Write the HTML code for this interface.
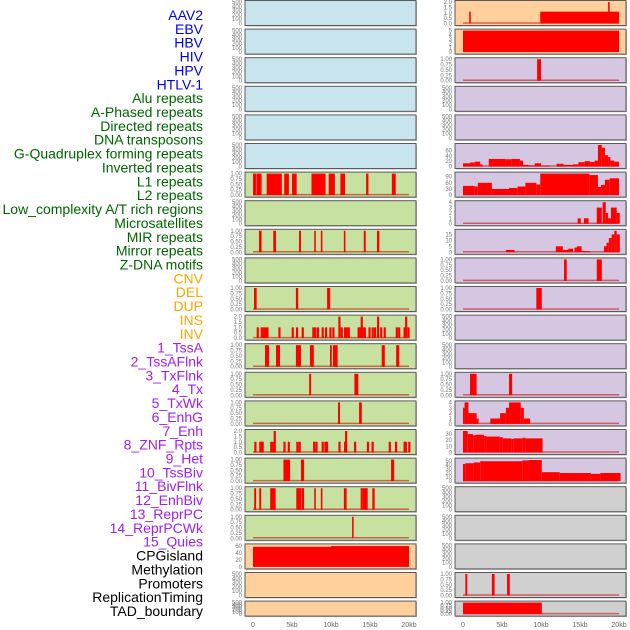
<!DOCTYPE html>
<html><head><meta charset="utf-8"><style>
html,body{margin:0;padding:0;background:#fff;width:630px;height:630px;overflow:hidden}
svg{display:block;font-family:"Liberation Sans",sans-serif}
</style></head><body>
<svg id="chart" width="630" height="630" viewBox="0 0 630 630"></svg>
<script>
// ---- data ----
const categories = ["AAV2","EBV","HBV","HIV","HPV","HTLV-1","Alu repeats","A-Phased repeats","Directed repeats","DNA transposons","G-Quadruplex forming repeats","Inverted repeats","L1 repeats","L2 repeats","Low_complexity A/T rich regions","Microsatellites","MIR repeats","Mirror repeats","Z-DNA motifs","CNV","DEL","DUP","INS","INV","1_TssA","2_TssAFlnk","3_TxFlnk","4_Tx","5_TxWk","6_EnhG","7_Enh","8_ZNF_Rpts","9_Het","10_TssBiv","11_BivFlnk","12_EnhBiv","13_ReprPC","14_ReprPCWk","15_Quies","CPGisland","Methylation","Promoters","ReplicationTiming","TAD_boundary"];
const categoryGroups = [0,0,0,0,0,0,1,1,1,1,1,1,1,1,1,1,1,1,1,2,2,2,2,2,3,3,3,3,3,3,3,3,3,3,3,3,3,3,3,4,4,4,4,4];
const groupColors = ["#0000ee","#006400","#ffa500","#a020f0","#000000"];
const xTickValues = [0,5,10,15,20];
const xTickLabels = ["0","5kb","10kb","15kb","20kb"];
const emptyTicks = [0,100,200,300,400,500];
const binaryTicks = [0,0.25,0.5,0.75,1];

// left column segments [startKb, endKb, value]
const leftRow6 = [[0,0.45,1],[0.5,1.1,1],[1.75,3.7,1],[4.0,4.6,1],[5.0,5.6,1],[7.5,9.3,1],[9.7,10.5,1],[11.2,11.8,1],[14.5,14.8,1],[17.8,18.3,1]];
const leftRow8 = [[0.77,1.1,1],[2.6,2.95,1],[5.9,6.15,1],[7.85,8.05,1],[8.7,8.9,1],[11.65,11.85,1],[14.2,14.45,1],[15.9,16.2,1]];
const leftRow10 = [[0.13,0.47,1],[5.5,5.8,1],[9.5,9.9,1]];
const leftRow11Pos = [0.47,0.98,1.24,1.45,1.71,3.25,4.96,5.51,6.24,7.6,7.86,8.2,8.8,9.23,9.79,10.17,10.94,11.24,11.67,11.88,12.14,13.4,13.6,13.8,14.0,14.2,14.8,15.2,15.5,15.9,16.3,16.75,18.3,18.6,19.3,19.5,19.8];
const leftRow11Val = [1,1,1,1,1,1,1,1,1,1,1,1,1,1,1,1,2,1,1,1,1,1,1,2,1,1,1,1,1,2,1,1,1,1,1,2,1];
const leftRow12 = [[1.54,2.05,1],[2.95,3.46,1],[5.5,6.15,1],[7.3,7.8,1],[9.87,10.1,1],[10.25,10.85,1],[16.5,16.9,1],[18.35,18.75,1]];
const leftRow13 = [[7.2,7.45,1],[13.0,13.5,1]];
const leftRow14 = [[10.9,11.15,1],[13.6,13.95,1]];
const leftRow15Pos = [0.17,0.8,1.0,1.1,2.2,2.45,2.65,3.9,4.45,5.55,5.85,7.7,8.0,8.8,9.15,9.35,10.95,11.67,11.8,12.95,14.6,15.2,17.4,18.2,19.3,19.45,19.9];
const leftRow15Val = [1,1,1,1,1,1,2,1,1,1,1,1,1,1,1,1,1,1,2,1,1,1,1,1,1,1,1];
const leftRow16 = [[3.9,4.75,1],[6.15,6.55,1],[17.7,18.1,1]];
const leftRow17 = [[0.15,0.4,1],[0.8,1.05,1],[2.2,2.9,1],[5.55,6.15,1],[6.2,6.55,1],[7.85,8.05,1],[8.7,8.9,1],[11.65,12.0,1],[13.8,14.0,1],[14.0,14.7,1],[15.3,15.6,1]];
const leftRow18 = [[12.7,12.9,1]];
const leftRow19 = [[0,10,58],[10,20,60]];

// right column segments
const rightRow0 = [[0.8,1.0,1.1],[9.9,20,1.1],[18.6,18.8,2]];
const rightRow1 = [[0,20,5]];
const rightRow2 = [[9.5,10.0,1]];
const rightRow5 = [[0,0.9,12],[0.9,1.5,15],[1.5,2.2,18],[2.2,2.5,8],[3.3,5.4,28],[5.4,6.2,27],[6.2,7.3,28],[7.3,7.7,22],[7.7,8.4,6],[8.4,9.2,4],[9.2,10,12],[10,11.1,3],[12,12.9,10],[12.9,14.1,6],[14.1,14.8,8],[14.8,15.6,16],[15.6,16.3,20],[16.3,16.9,17],[16.9,17.3,22],[17.3,17.8,80],[17.8,18.2,70],[18.2,18.6,42],[18.6,18.9,35],[18.9,19.4,22],[19.4,20,18]];
const rightRow6 = [[0,1.5,45],[1.5,1.9,42],[1.9,3.7,60],[3.7,5.9,30],[5.9,7.0,35],[7.0,8.0,42],[8.0,9.4,60],[9.4,9.9,52],[9.9,16.2,105],[16.2,17.3,98],[17.3,17.7,40],[17.7,18.2,50],[18.2,18.8,75],[18.8,20,82]];
const rightRow7 = [[14.7,15.1,1],[15.5,16.1,1],[17.15,17.8,3],[17.9,18.3,4],[18.3,18.6,2],[18.6,18.97,1],[18.97,19.7,3],[19.7,20.1,2]];
const rightRow8 = [[5.5,6.6,2],[11.9,12.8,5],[12.8,13.5,2],[13.5,14.1,3],[14.3,14.6,4],[14.6,15.2,5],[15.2,16.3,1],[18.07,18.4,5],[18.4,18.7,8],[18.7,19.06,12],[19.06,19.4,15],[19.4,19.7,18],[19.7,20.1,15]];
const rightRow9 = [[12.95,13.3,1],[17.15,17.8,1]];
const rightRow10 = [[9.4,10.1,1]];
const rightRow13 = [[0.9,1.75,1],[5.9,6.3,1]];
const rightRow14 = [[0,0.2,3],[0.2,0.7,4],[0.7,1.75,2],[1.75,2,1],[3.5,4.75,1],[4.75,5.5,2],[5.5,5.9,3],[5.9,7.4,4],[7.4,7.8,3],[7.8,8.6,1]];
const rightRow15 = [[0,0.6,35],[0.6,1.3,30],[1.3,1.6,28],[1.6,2.7,29],[2.7,3.0,27],[3.0,4.7,26],[4.7,5.1,25],[5.1,6.2,23],[6.2,6.5,22],[6.5,7.6,23],[7.6,8.0,24],[8.0,10.2,23]];
const rightRow16 = [[0,0.3,42],[0.3,1.4,44],[1.4,2.2,46],[2.2,7.6,49],[7.6,8.4,51],[8.4,10.1,52],[10.1,12.4,22],[12.4,16.4,20],[16.4,17.6,18],[17.6,20.2,20]];
const rightRow20 = [[0.3,0.55,1],[3.7,4.05,1],[5.65,6.0,1]];
const rightRow21 = [[0,10.1,1]];

// ---- drawing ----
const NS = "http://www.w3.org/2000/svg";
const svg = document.getElementById("chart");
function mk(tag, attrs, parent){ const e=document.createElementNS(NS,tag); for(const k in attrs) e.setAttribute(k,attrs[k]); (parent||svg).appendChild(e); return e; }
const COLORS = {blue:"#c8e4ec",green:"#c7e1a1",peach:"#ffcf9c",purple:"#d5c7e2",gray:"#d0d0d0"};
const COLS = [{x0:245,x1:416,z:253},{x0:455,x1:626,z:463}];
const kbPx = 7.8;
function xScale(col,kb){ return COLS[col].z + kb*kbPx; }
function rowTop(i){ return 0.5 + i*28.6; }
function rowH(i){ return i===21 ? 15 : 25; }
function fmt(v,ticks){ if(ticks===binaryTicks) return v.toFixed(2); if(ticks.some(t=>t%1!==0)) return v.toFixed(1); return String(v); }

function pointsToSegs(pos,val){ return pos.map((p,i)=>[p,p+0.28,val[i]]); }

const leftSpecs = [];
for(let i=0;i<6;i++) leftSpecs.push({bg:"blue"});
leftSpecs.push({bg:"green",data:leftRow6,ticks:binaryTicks,ymax:1});
leftSpecs.push({bg:"green"});
leftSpecs.push({bg:"green",data:leftRow8,ticks:binaryTicks,ymax:1});
leftSpecs.push({bg:"green"});
leftSpecs.push({bg:"green",data:leftRow10,ticks:binaryTicks,ymax:1});
leftSpecs.push({bg:"green",data:pointsToSegs(leftRow11Pos,leftRow11Val),ticks:[0,0.5,1,1.5,2],ymax:2});
leftSpecs.push({bg:"green",data:leftRow12,ticks:binaryTicks,ymax:1});
leftSpecs.push({bg:"green",data:leftRow13,ticks:binaryTicks,ymax:1});
leftSpecs.push({bg:"green",data:leftRow14,ticks:binaryTicks,ymax:1});
leftSpecs.push({bg:"green",data:pointsToSegs(leftRow15Pos,leftRow15Val),ticks:[0,0.5,1,1.5,2],ymax:2});
leftSpecs.push({bg:"green",data:leftRow16,ticks:binaryTicks,ymax:1});
leftSpecs.push({bg:"green",data:leftRow17,ticks:binaryTicks,ymax:1});
leftSpecs.push({bg:"green",data:leftRow18,ticks:binaryTicks,ymax:1});
leftSpecs.push({bg:"peach",data:leftRow19,ticks:[0,20,40,60],ymax:62,nobase:true});
leftSpecs.push({bg:"peach"});
leftSpecs.push({bg:"peach"});

const rightSpecs = [
 {bg:"peach",data:rightRow0,ticks:[0,0.5,1,1.5,2],ymax:2},
 {bg:"peach",data:rightRow1,ticks:[0,1,2,3,4,5],ymax:5,nobase:true},
 {bg:"purple",data:rightRow2,ticks:binaryTicks,ymax:1},
 {bg:"purple"},{bg:"purple"},
 {bg:"purple",data:rightRow5,ticks:[0,20,40,60],ymax:80},
 {bg:"purple",data:rightRow6,ticks:[0,30,60,90],ymax:105},
 {bg:"purple",data:rightRow7,ticks:[0,1,2,3,4],ymax:4},
 {bg:"purple",data:rightRow8,ticks:[0,5,10,15],ymax:18},
 {bg:"purple",data:rightRow9,ticks:binaryTicks,ymax:1},
 {bg:"purple",data:rightRow10,ticks:binaryTicks,ymax:1},
 {bg:"purple"},{bg:"purple"},
 {bg:"purple",data:rightRow13,ticks:binaryTicks,ymax:1},
 {bg:"purple",data:rightRow14,ticks:[0,1,2,3,4],ymax:4},
 {bg:"purple",data:rightRow15,ticks:[0,10,20,30],ymax:35},
 {bg:"purple",data:rightRow16,ticks:[0,10,20,30,40,50],ymax:53},
 {bg:"gray"},{bg:"gray"},{bg:"gray"},
 {bg:"gray",data:rightRow20,ticks:binaryTicks,ymax:1},
 {bg:"gray",data:rightRow21,ticks:binaryTicks,ymax:1}
];

function drawPanel(col,i,spec){
  const c=COLS[col], T=rowTop(i), H=rowH(i);
  const g=mk("g",{});
  
  
  mk("rect",{x:c.x0+1,y:T+1,width:c.x1-c.x0,height:H,fill:"#bbb"},g);
  mk("rect",{x:c.x0,y:T,width:c.x1-c.x0,height:H,fill:COLORS[spec.bg],stroke:"#5a5a5a","stroke-width":1},g);
  const y0=T+H-2, yTop=T+1.5;
  const ticks=spec.ticks||emptyTicks, ymax=spec.ymax||500;
  const yS=v=>y0-(Math.min(v,ymax)/ymax)*(y0-yTop);
  ticks.forEach(t=>{
    const tx=mk("text",{x:c.x0-3,y:yS(t)+2,"font-size":6,fill:"#777","text-anchor":"end"},g);
    tx.textContent=fmt(t,ticks);
    
    
  });
  if(spec.data){
    if(!spec.nobase){
      const bl=mk("line",{x1:xScale(col,0),x2:xScale(col,20),y1:y0-0.5,y2:y0-0.5,stroke:"rgba(200,0,0,0.55)","stroke-width":1.5},g);
      
      
    }
    spec.data.forEach(d=>{
      const xa=xScale(col,d[0]), xb=xScale(col,d[1]);
      const r=mk("rect",{x:xa,y:yS(d[2]),width:Math.max(1.5,xb-xa),height:y0-yS(d[2]),fill:"#ff0000"},g);
      
      
    });
  }
}
leftSpecs.forEach((s,i)=>drawPanel(0,i,s));
rightSpecs.forEach((s,i)=>drawPanel(1,i,s));

// x-axis labels
[0,1].forEach(col=>{
  xTickValues.forEach((v,k)=>{
    const t=mk("text",{x:xScale(col,v),y:627,"font-size":7,fill:"#666","text-anchor":"middle"});
    t.textContent=xTickLabels[k];
    
    
  });
});

// category labels
categories.forEach((name,i)=>{
  const t=mk("text",{x:203,y:15+i*13.86+5,"font-size":14,fill:groupColors[categoryGroups[i]],"text-anchor":"end"});
  t.textContent=name;
  
  
});
</script>
</body></html>
